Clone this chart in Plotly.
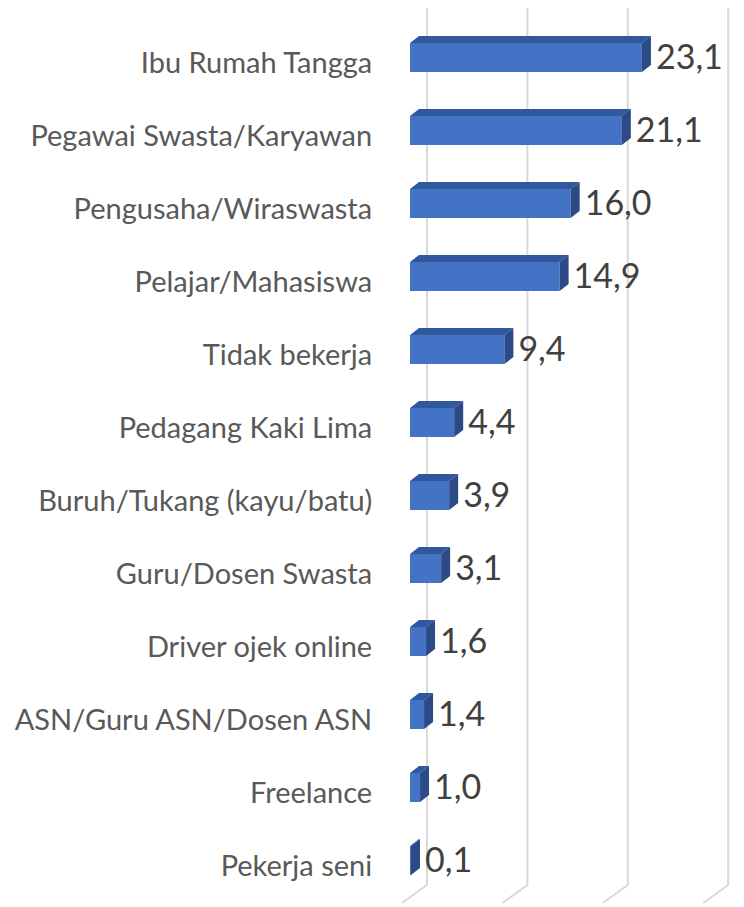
import plotly.graph_objects as go

# ---- data ----
categories = [
    "Ibu Rumah Tangga",
    "Pegawai Swasta/Karyawan",
    "Pengusaha/Wiraswasta",
    "Pelajar/Mahasiswa",
    "Tidak bekerja",
    "Pedagang Kaki Lima",
    "Buruh/Tukang (kayu/batu)",
    "Guru/Dosen Swasta",
    "Driver ojek online",
    "ASN/Guru ASN/Dosen ASN",
    "Freelance",
    "Pekerja seni",
]
values = [23.1, 21.1, 16.0, 14.9, 9.4, 4.4, 3.9, 3.1, 1.6, 1.4, 1.0, 0.1]
grid_values = [0, 10, 20, 30]

# ---- layout constants (pixels, figure drawn inside the 8px page margin) ----
OFF = 8
W, H = 744 - OFF, 907 - OFF
PX_PER_UNIT = 10.04      # horizontal pixels per value unit
X0_PX = 410 - OFF        # pixel of value 0 on the front plane
ROW_PX = 73              # pixel pitch between categories
ROW0_PX = 57.5 - OFF     # pixel centre of first bar front face

DX = 9 / PX_PER_UNIT     # depth offset (value units)
DY = 7 / ROW_PX          # depth offset (row units)
BAR_H = 29 / ROW_PX      # front face height (row units)
WALL_DX = 17 / PX_PER_UNIT
FLOOR_DX = -25 / PX_PER_UNIT
WALL_TOP = (6 - OFF - ROW0_PX) / ROW_PX
WALL_BOT = (885 - OFF - ROW0_PX) / ROW_PX
FLOOR_BOT = (903 - OFF - ROW0_PX) / ROW_PX

FRONT = "#4472C4"
TOP = "#30589E"
SIDE = "#2B4A86"

rows = list(range(len(categories)))

fig = go.Figure()

# front faces
fig.add_trace(go.Bar(
    x=values, y=rows, base=0, orientation="h", width=BAR_H,
    marker=dict(color=FRONT, line=dict(width=0)),
    hoverinfo="skip", showlegend=False,
))

# top faces and side faces
tx, ty, sx, sy = [], [], [], []
for r, v in zip(rows, values):
    top = r - BAR_H / 2
    bot = r + BAR_H / 2
    tx += [0, v, v + DX, DX, 0, None]
    ty += [top, top, top - DY, top - DY, top, None]
    sx += [v, v + DX, v + DX, v, v, None]
    sy += [top, top - DY, bot - DY, bot, top, None]

fig.add_trace(go.Scatter(x=tx, y=ty, mode="lines", fill="toself",
                         fillcolor=TOP, line=dict(width=0, color=TOP),
                         hoverinfo="skip", showlegend=False))
fig.add_trace(go.Scatter(x=sx, y=sy, mode="lines", fill="toself",
                         fillcolor=SIDE, line=dict(width=0, color=SIDE),
                         hoverinfo="skip", showlegend=False))

# data labels
labels = [f"{v:.1f}".replace(".", ",") for v in values]
fig.add_trace(go.Scatter(
    x=[v + DX + 0.5 for v in values], y=[r + 0.035 for r in rows],
    mode="text", text=labels, textposition="middle right",
    textfont=dict(family="Lato", size=34, color="#404040"),
    hoverinfo="skip", showlegend=False,
))

# gridlines (back wall + floor)
shapes = []
for g in grid_values:
    shapes.append(dict(type="line", xref="x", yref="y", layer="below",
                       x0=g + WALL_DX, x1=g + WALL_DX, y0=WALL_TOP, y1=WALL_BOT,
                       line=dict(color="#D9D9D9", width=2)))
    shapes.append(dict(type="line", xref="x", yref="y", layer="below",
                       x0=g + WALL_DX, x1=g + WALL_DX + FLOOR_DX, y0=WALL_BOT, y1=FLOOR_BOT,
                       line=dict(color="#D9D9D9", width=2)))

fig.update_layout(
    width=W, height=H,
    margin=dict(l=0, r=0, t=0, b=0, pad=0, autoexpand=False),
    paper_bgcolor="white", plot_bgcolor="white",
    shapes=shapes,
    xaxis=dict(range=[-X0_PX / PX_PER_UNIT, (W - X0_PX) / PX_PER_UNIT],
               domain=[0, 1], visible=False, fixedrange=True, automargin=False),
    yaxis=dict(range=[(H - ROW0_PX) / ROW_PX, -ROW0_PX / ROW_PX],
               domain=[0, 1], anchor="free", position=X0_PX / W,
               tickvals=[r + 0.08 for r in rows], ticktext=categories,
               ticks="outside", ticklen=32, tickcolor="rgba(0,0,0,0)",
               showgrid=False, zeroline=False, showline=False, automargin=False,
               tickfont=dict(family="Lato", size=29, color="#595959"),
               fixedrange=True),
    font=dict(family="Lato"),
)

fig.write_html("out.html")
